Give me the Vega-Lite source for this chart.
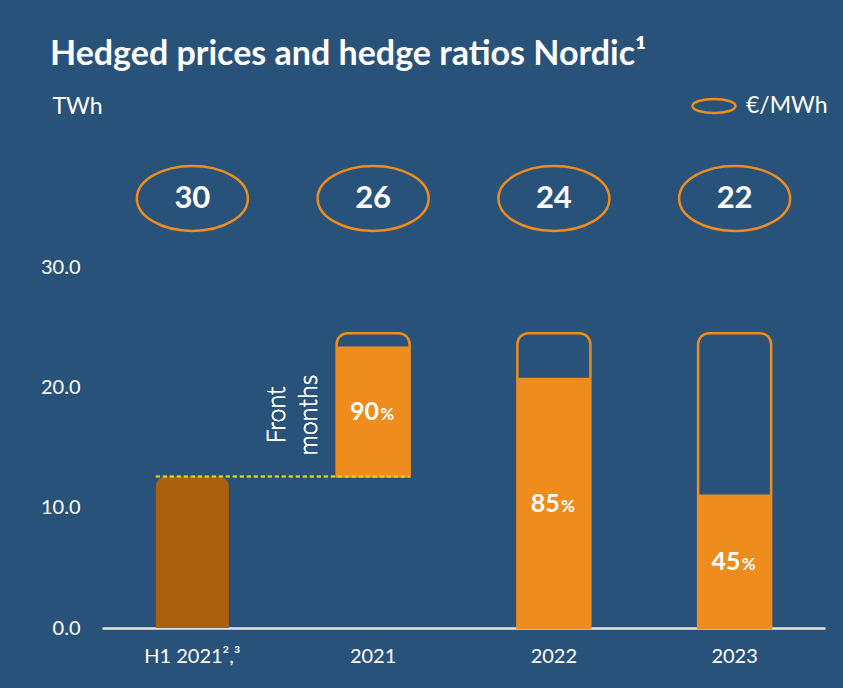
{
  "$schema": "https://vega.github.io/schema/vega-lite/v6.json",
  "width": 723,
  "height": 361,
  "autosize": {"type": "none"},
  "padding": {"left": 102, "top": 267, "right": 18, "bottom": 60},
  "background": "#29527A",
  "title": {
    "text": "Hedged prices and hedge ratios Nordic¹",
    "anchor": "start",
    "frame": "group",
    "font": "Lato",
    "fontSize": 34,
    "fontWeight": "bold",
    "color": "white",
    "dx": -52,
    "dy": -1,
    "offset": 10
  },
  "config": {
    "view": {"stroke": null},
    "font": "Lato"
  },
  "data": {
    "values": [
      {"period": "H1 2021²,³", "price": 30, "hedged_from": 0, "hedged_to": 12.6, "kind": "actual"},
      {"period": "2021", "price": 26, "hedged_from": 12.6, "hedged_to": 23.4, "cap_from": 12.6, "cap_to": 24.5, "ratio": "90", "kind": "hedge"},
      {"period": "2022", "price": 24, "hedged_from": 0, "hedged_to": 20.8, "cap_from": 0, "cap_to": 24.5, "ratio": "85", "kind": "hedge"},
      {"period": "2023", "price": 22, "hedged_from": 0, "hedged_to": 11.1, "cap_from": 0, "cap_to": 24.5, "ratio": "45", "kind": "hedge"}
    ]
  },
  "encoding": {
    "x": {
      "field": "period",
      "type": "nominal",
      "sort": ["H1 2021²,³", "2021", "2022", "2023"],
      "scale": {"paddingInner": 0.596, "paddingOuter": 0.298},
      "axis": {
        "title": null,
        "labelAngle": 0,
        "labelFont": "Lato",
        "labelFontSize": 20,
        "labelColor": "white",
        "labelPadding": 18,
        "ticks": false,
        "domainColor": "#E6E6E6",
        "domainWidth": 2.5,
        "grid": false
      }
    }
  },
  "layer": [
    {
      "transform": [{"filter": "datum.kind == 'hedge'"}],
      "mark": {"type": "bar", "fillOpacity": 0, "stroke": "#EE8C1D", "strokeWidth": 2.5, "cornerRadiusTopLeft": 11, "cornerRadiusTopRight": 11},
      "encoding": {
        "y": {
          "field": "cap_to",
          "type": "quantitative",
          "scale": {"domain": [0, 30], "nice": false},
          "axis": {
            "title": "TWh",
            "titleAngle": 0,
            "titleAlign": "left",
            "titleBaseline": "middle",
            "titleX": -50,
            "titleY": -161,
            "titleFont": "Lato",
            "titleFontSize": 23,
            "titleFontWeight": "normal",
            "titleColor": "white",
            "values": [0, 10, 20, 30],
            "format": ".1f",
            "labelFont": "Lato",
            "labelFontSize": 20,
            "labelColor": "white",
            "labelPadding": 22,
            "ticks": false,
            "domain": false,
            "grid": false
          }
        },
        "y2": {"field": "cap_from"}
      }
    },
    {
      "transform": [{"filter": "datum.kind == 'hedge'"}],
      "mark": {"type": "bar", "color": "#EE8C1D"},
      "encoding": {
        "y": {"field": "hedged_to", "type": "quantitative"},
        "y2": {"field": "hedged_from"}
      }
    },
    {
      "transform": [{"filter": "datum.kind == 'actual'"}],
      "mark": {"type": "bar", "color": "#AB600D", "cornerRadiusTopLeft": 10, "cornerRadiusTopRight": 10},
      "encoding": {
        "y": {"field": "hedged_to", "type": "quantitative"},
        "y2": {"field": "hedged_from"}
      }
    },
    {
      "mark": {"type": "rule", "color": "#D8D21C", "strokeDash": [4, 3], "strokeWidth": 1.5},
      "encoding": {
        "x": {"datum": "H1 2021²,³", "bandPosition": 0},
        "x2": {"datum": "2021", "bandPosition": 1},
        "y": {"datum": 12.6}
      }
    },
    {
      "transform": [
        {"filter": "datum.kind == 'hedge'"},
        {"fold": ["hedged_from", "hedged_to"], "as": ["edge", "level"]}
      ],
      "mark": {"type": "text", "font": "Lato", "fontWeight": "bold", "fontSize": 25, "color": "white", "align": "right", "baseline": "alphabetic", "dx": 6, "dy": 9},
      "encoding": {
        "y": {"aggregate": "mean", "field": "level", "type": "quantitative"},
        "text": {"field": "ratio"}
      }
    },
    {
      "transform": [
        {"filter": "datum.kind == 'hedge'"},
        {"fold": ["hedged_from", "hedged_to"], "as": ["edge", "level"]}
      ],
      "mark": {"type": "text", "font": "Lato", "fontWeight": "bold", "fontSize": 17, "color": "white", "align": "left", "baseline": "alphabetic", "dx": 7, "dy": 9},
      "encoding": {
        "y": {"aggregate": "mean", "field": "level", "type": "quantitative"},
        "text": {"value": "%"},
        "detail": {"field": "ratio"}
      }
    },
    {
      "mark": {"type": "text", "font": "Lato", "fontSize": 25, "fontWeight": 300, "color": "white", "angle": 270, "align": "center", "baseline": "middle", "lineHeight": 32, "dy": -60},
      "encoding": {
        "x": {"datum": "2021", "bandPosition": 0},
        "y": {"datum": 17.7},
        "text": {"value": ["Front", "months"]}
      }
    },
    {
      "mark": {"type": "point", "filled": false, "strokeWidth": 2.5, "opacity": 1, "size": 12321, "shape": "M-1,0A1,0.586,0,1,1,1,0A1,0.586,0,1,1,-1,0Z"},
      "encoding": {
        "y": {"datum": 35.7},
        "stroke": {
          "datum": "€/MWh",
          "scale": {"range": ["#EE8C1D"]},
          "legend": {
            "title": null,
            "orient": "none",
            "legendX": 589,
            "legendY": -184,
            "padding": 0,
            "symbolType": "M-1,0A1,0.33,0,1,1,1,0A1,0.33,0,1,1,-1,0Z",
            "symbolSize": 1849,
            "symbolStrokeWidth": 2.5,
            "symbolStrokeColor": "#EE8C1D",
            "labelFont": "Lato",
            "labelFontSize": 23,
            "labelColor": "white",
            "labelOffset": 9
          }
        }
      }
    },
    {
      "mark": {"type": "text", "font": "Lato", "fontWeight": "bold", "fontSize": 31, "color": "white", "baseline": "middle", "dy": 1},
      "encoding": {
        "y": {"datum": 35.7},
        "text": {"field": "price"}
      }
    }
  ]
}
